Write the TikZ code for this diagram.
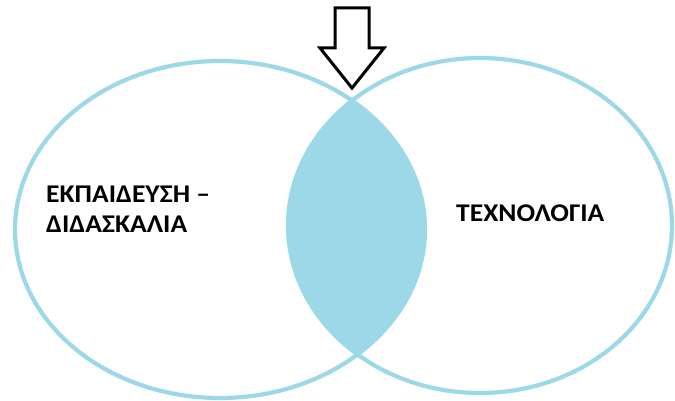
\documentclass[tikz,border=0pt]{standalone}
\usepackage{fontspec}
\setmainfont{Carlito}
\definecolor{venn}{RGB}{157,216,233}
\tikzset{
  setline/.style={draw=venn, line width=4.2pt},
  lens/.style={fill=venn},
  label/.style={font=\bfseries\fontsize{25.5}{31}\selectfont, inner sep=0pt, text=black, xscale=1.08},
  arrowshape/.style={draw=black, line width=3pt, fill=white, line join=miter}
}
\begin{document}
\begin{tikzpicture}[x=1pt,y=-1pt]
\useasboundingbox (0,0) rectangle (675,401);
% centres
\coordinate (cl) at (220,229.5);
\coordinate (cr) at (480,225.5);
% intersection
\begin{scope}
  \clip (cl) ellipse [x radius=205pt, y radius=168.5pt];
  \fill[lens] (cr) ellipse [x radius=192pt, y radius=167.5pt];
\end{scope}
\draw[setline] (cl) ellipse [x radius=205pt, y radius=168.5pt];
\draw[setline] (cr) ellipse [x radius=192pt, y radius=167.5pt];
% arrow
\draw[arrowshape] (335,8) -- (369,8) -- (369,48) -- (384,48) -- (352,88) -- (320,48) -- (335,48) -- cycle;
% labels
\node[label, anchor=base west, align=left] (edu) at (46,233) {ΕΚΠΑΙΔΕΥΣΗ –\\ΔΙΔΑΣΚΑΛΙΑ};
\node[label, anchor=base west] (tech) at (456,221) {ΤΕΧΝΟΛΟΓΙΑ};
\end{tikzpicture}
\end{document}
